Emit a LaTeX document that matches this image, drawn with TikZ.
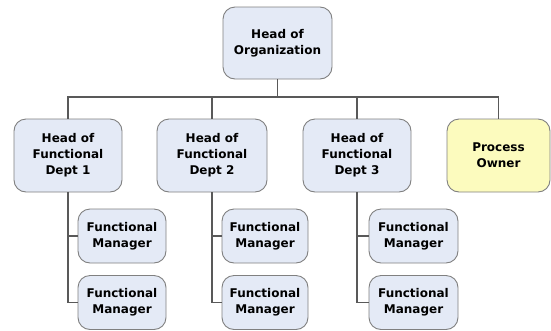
\documentclass[tikz,border=0pt]{standalone}
\usepackage{fontspec}
\setmainfont{DejaVu Sans}
\begin{document}
\begin{tikzpicture}[x=1pt,y=-1pt,
  box/.style={draw=black!50, line width=0.9pt, rounded corners=12pt, fill=boxblue, align=center,
    font=\bfseries\fontsize{12}{16}\selectfont, inner sep=0pt},
  big/.style={box, minimum width=108pt, minimum height=73pt},
  small/.style={box, minimum width=88pt, minimum height=54pt},
  conn/.style={draw=black!65, line width=1.1pt}]
\definecolor{boxblue}{HTML}{E4EAF6}
\definecolor{boxyellow}{HTML}{FCFBBE}
\useasboundingbox (0,0) rectangle (551,330);
\node[big, minimum width=109pt, minimum height=72pt] (top) at (277.5,43) {Head of\\Organization};
\node[big] (d1) at (68,155.5) {Head of\\Functional\\Dept 1};
\node[big, minimum width=110pt] (d2) at (212,155.5) {Head of\\Functional\\Dept 2};
\node[big] (d3) at (357,155.5) {Head of\\Functional\\Dept 3};
\node[big, minimum width=103pt, fill=boxyellow] (po) at (498.5,155.5) {Process\\Owner};
\node[small] (f1a) at (122,236) {Functional\\Manager};
\node[small] (f1b) at (122,302.5) {Functional\\Manager};
\node[small, minimum width=86pt] (f2a) at (265,236) {Functional\\Manager};
\node[small, minimum width=86pt] (f2b) at (265,302.5) {Functional\\Manager};
\node[small, minimum width=89pt] (f3a) at (413.5,236) {Functional\\Manager};
\node[small, minimum width=89pt] (f3b) at (413.5,302.5) {Functional\\Manager};
\coordinate (bus) at (277.5,97);
\draw[conn] (top.south) -- (bus) -| (d1.north);
\draw[conn] (bus) -| (d2.north);
\draw[conn] (bus) -| (d3.north);
\draw[conn] (bus) -| (po.north);
\draw[conn] (d1.south) |- (f1a.west);
\draw[conn] (d1.south) |- (f1b.west);
\draw[conn] (d2.south) |- (f2a.west);
\draw[conn] (d2.south) |- (f2b.west);
\draw[conn] (d3.south) |- (f3a.west);
\draw[conn] (d3.south) |- (f3b.west);
\end{tikzpicture}
\end{document}
